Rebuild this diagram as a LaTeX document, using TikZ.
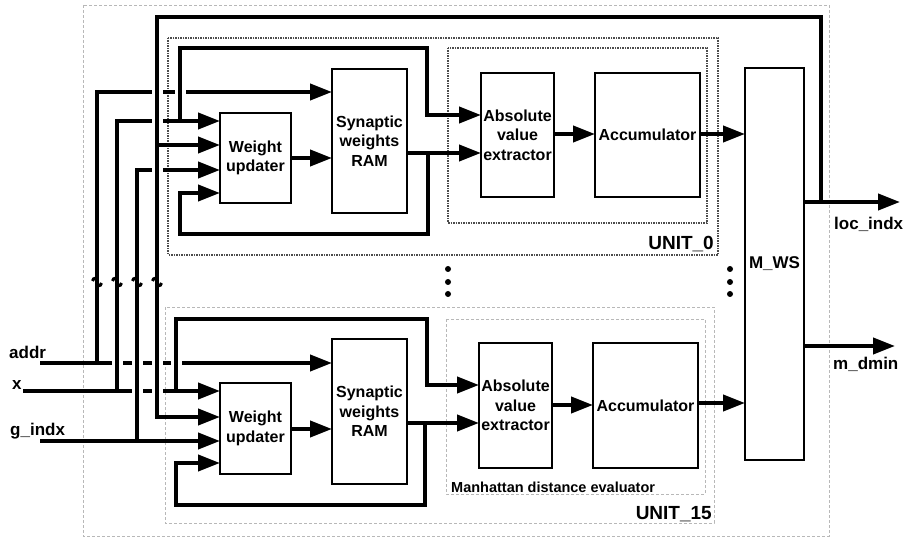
\documentclass[tikz,border=0pt]{standalone}
\usepackage{fontspec}
\setmainfont{Liberation Sans}
\usetikzlibrary{arrows.meta}
\begin{document}
\begin{tikzpicture}[x=1pt,y=-1pt,
  bus/.style={line width=4pt},
  arr/.style={bus,-{Triangle[length=22pt,width=16pt]}},
  blk/.style={draw,line width=1.5pt,inner sep=0pt,outer sep=0pt,align=center,font=\fontsize{16}{19.5}\selectfont\bfseries},
  accb/.style={blk,line width=2.5pt},
  lbl/.style={inner sep=0pt,font=\fontsize{17}{20}\selectfont\bfseries},
  unitlbl/.style={inner sep=0pt,font=\fontsize{19}{22}\selectfont\bfseries},
  mlbl/.style={inner sep=0pt,font=\fontsize{14.5}{17}\selectfont\bfseries},
  lightbox/.style={draw=black!28,line width=0.8pt,dash pattern=on 3pt off 2pt},
  darkbox/.style={draw=black!70,line width=1.3pt,dash pattern=on 1.5pt off 1pt}
]
\useasboundingbox (0,0) rectangle (903,540);
% frames
\draw[lightbox] (83,5) rectangle (829,536);
\draw[darkbox] (168,38) rectangle (718,255);
\draw[darkbox] (448,48) rectangle (707,223);
\draw[lightbox] (165,307) rectangle (714,523);
\draw[lightbox] (446,319) rectangle (705,494);
% blocks, unit 0
\node[blk,minimum width=71pt,minimum height=90pt] (wu0) at (255.5,158) {Weight\\updater};
\node[blk,minimum width=75pt,minimum height=144pt] (ram0) at (369.5,141) {Synaptic\\weights\\RAM};
\node[blk,minimum width=73pt,minimum height=124pt] (abs0) at (517.5,135) {Absolute\\value\\extractor};
\node[accb,minimum width=105pt,minimum height=124pt] (acc0) at (647.5,135) {Accumulator};
% blocks, unit 15
\node[blk,minimum width=71pt,minimum height=91pt] (wu1) at (255.5,428.5) {Weight\\updater};
\node[blk,minimum width=75pt,minimum height=145pt] (ram1) at (369.5,411.5) {Synaptic\\weights\\RAM};
\node[blk,minimum width=73pt,minimum height=125pt] (abs1) at (515.5,405.5) {Absolute\\value\\extractor};
\node[accb,minimum width=105pt,minimum height=125pt] (acc1) at (645.5,405.5) {Accumulator};
% M_WS
\node[blk,minimum width=59pt,minimum height=392pt,font=\fontsize{17}{20}\selectfont\bfseries] (mws) at (774.5,264) {M\_WS};
% coordinates
\coordinate (addr) at (40,363);
\coordinate (xin) at (23,391);
\coordinate (gin) at (40,441);
\coordinate (ba) at (97,363);
\coordinate (bx) at (117,391);
\coordinate (bg) at (137,441);
\coordinate (locout) at (900,202);
\coordinate (dmout) at (895,346);
% input buses
\draw[arr] (addr) -- (ram1.west |- addr);
\draw[arr] (ba) -- (97,92) -- (ram0.west |- 0,92);
\draw[arr] (xin) -- (wu1.west |- xin);
\draw[arr] (bx) -- (117,121) -- (wu0.west |- 0,121);
\draw[arr] (gin) -- (wu1.west |- gin);
\draw[arr] (bg) -- (137,170) -- (wu0.west |- 0,170);
% loc_indx feedback
\draw[arr] (mws.east |- locout) -- (locout);
\draw[arr] (821,202) -- (821,17) -- (157,17) -- (157,417) -- (wu1.west |- 0,417);
\draw[arr] (157,145) -- (wu0.west |- 0,145);
\draw[arr] (mws.east |- dmout) -- (dmout);
% unit 0 internals
\draw[arr] (wu0.east |- 0,158) -- (ram0.west |- 0,158);
\draw[arr] (ram0.east |- 0,153) -- (abs0.west |- 0,153);
\draw[arr] (428,153) -- (428,234) -- (180,234) -- (180,193) -- (wu0.west |- 0,193);
\draw[arr] (180,121) -- (180,48) -- (427,48) -- (427,115) -- (abs0.west |- 0,115);
\draw[arr] (abs0.east |- 0,134) -- (acc0.west |- 0,134);
\draw[arr] (acc0.east |- 0,134) -- (mws.west |- 0,134);
% unit 15 internals
\draw[arr] (wu1.east |- 0,429) -- (ram1.west |- 0,429);
\draw[arr] (ram1.east |- 0,423) -- (abs1.west |- 0,423);
\draw[arr] (425,423) -- (425,505) -- (176,505) -- (176,463) -- (wu1.west |- 0,463);
\draw[arr] (176,391) -- (176,319) -- (427,319) -- (427,385) -- (abs1.west |- 0,385);
\draw[arr] (abs1.east |- 0,405) -- (acc1.west |- 0,405);
\draw[arr] (acc1.east |- 0,403) -- (mws.west |- 0,403);
% crossings
\foreach \gx/\gy in {157/92,180/92,157/121,157/170,117/363,137/363,157/363,176/363,137/391,157/391} {
  \draw[white,line width=5pt] (\gx-5.5,\gy) -- (\gx+5.5,\gy);
  \draw[bus] (\gx,\gy-7) -- (\gx,\gy+7);
}
% bus marks
\foreach \hx in {97,117,137,157} {
  \draw[line width=3pt] (\hx-4.5,281) .. controls (\hx-3.5,277) and (\hx,277.5) .. (\hx,282) .. controls (\hx,286.5) and (\hx+3.5,287) .. (\hx+4.5,283);
}
% continuation dots
\foreach \dy in {269,282,294} {
  \fill (448,\dy) circle (3pt);
  \fill (730,\dy) circle (3pt);
}
% labels
\node[lbl,anchor=base west] (laddr) at (9,358) {addr};
\node[lbl,anchor=base west] (lx) at (12,389) {x};
\node[lbl,anchor=base west] (lg) at (10,435) {g\_indx};
\node[lbl,anchor=base west] (lloc) at (834,230) {loc\_indx};
\node[lbl,anchor=base west] (ldm) at (833,370) {m\_dmin};
\node[unitlbl,anchor=base east] (u0) at (714,250) {UNIT\_0};
\node[unitlbl,anchor=base east] (u15) at (712,519) {UNIT\_15};
\node[mlbl,anchor=base west] (md) at (451,492) {Manhattan distance evaluator};
\end{tikzpicture}
\end{document}
